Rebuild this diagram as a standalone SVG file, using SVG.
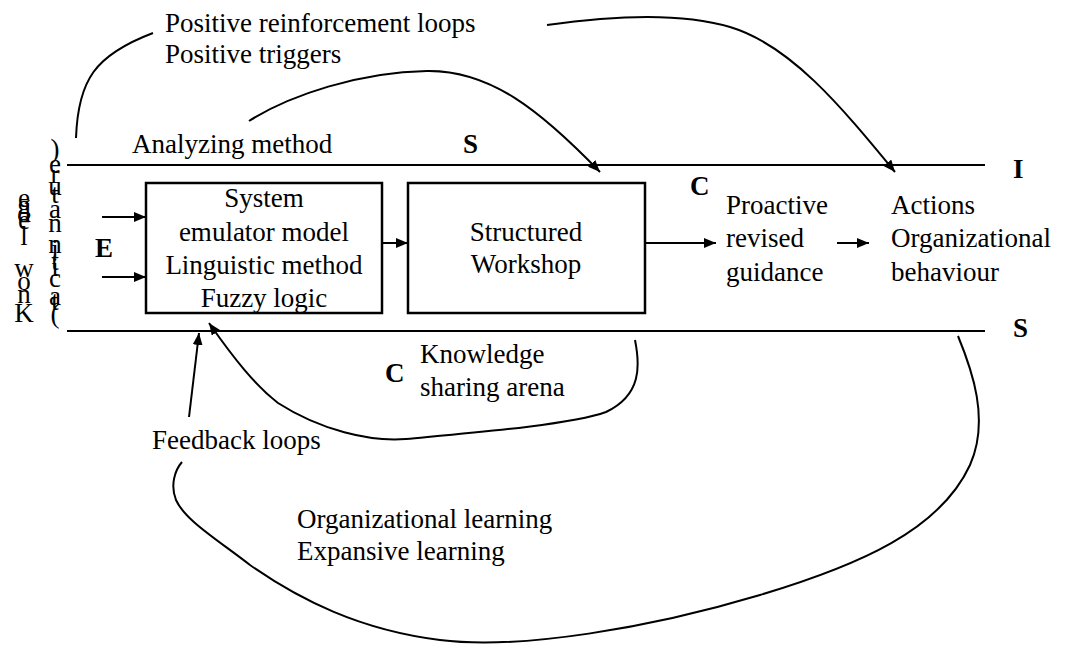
<svg xmlns="http://www.w3.org/2000/svg" width="1068" height="646" viewBox="0 0 1068 646">
<defs>
<marker id="ah" markerUnits="userSpaceOnUse" markerWidth="14" markerHeight="10" refX="12" refY="5" orient="auto">
<path d="M0,0 L12,5 L0,10 z" fill="#000"/>
</marker>
<style>
text{font-family:"Liberation Serif","Times New Roman",serif;font-size:27px;fill:#000}
.b{font-weight:bold}
.c{text-anchor:middle}
.ln{stroke:#000;stroke-width:2;fill:none}
.box{stroke:#000;stroke-width:2.5;fill:#fff}
</style>
</defs>
<rect width="1068" height="646" fill="#fff"/>

<g id="frame">
<line class="ln" x1="67" y1="165" x2="985" y2="165"/>
<line class="ln" x1="67" y1="331" x2="985" y2="331"/>
</g>

<g id="labels">
<text x="165" y="32">Positive reinforcement loops</text>
<text x="165" y="63">Positive triggers</text>
<text x="132" y="153">Analyzing method</text>
<text class="b" x="463" y="153">S</text>
<text class="b" x="1013" y="178">I</text>
<text class="b" x="1013" y="337">S</text>
<text class="b" x="95" y="257">E</text>
<text class="b" x="690" y="195">C</text>
<text class="b" x="385" y="382">C</text>
<text x="420" y="363">Knowledge</text>
<text x="420" y="396">sharing arena</text>
<text x="152" y="449">Feedback loops</text>
<text x="297" y="528">Organizational learning</text>
<text x="297" y="560">Expansive learning</text>
</g>

<g id="knowledge-vertical">
<text class="c"><tspan x="24" y="207">e</tspan><tspan x="24" y="214">g</tspan><tspan x="24" y="222">d</tspan><tspan x="24" y="229">e</tspan><tspan x="24" y="245">l</tspan><tspan x="24" y="277">w</tspan><tspan x="24" y="290">o</tspan><tspan x="24" y="303">n</tspan><tspan x="24" y="322">K</tspan></text>
<text class="c"><tspan x="55" y="158">)</tspan><tspan x="55" y="173">e</tspan><tspan x="55" y="183">r</tspan><tspan x="55" y="195">u</tspan><tspan x="55" y="203">t</tspan><tspan x="55" y="218">a</tspan><tspan x="55" y="232">n</tspan><tspan x="55" y="253">n</tspan><tspan x="55" y="258">i</tspan><tspan x="55" y="270">t</tspan><tspan x="55" y="276">i</tspan><tspan x="55" y="287">c</tspan><tspan x="55" y="305">a</tspan><tspan x="55" y="310">t</tspan><tspan x="55" y="323">(</tspan></text>
</g>

<g id="node-emulator">
<rect class="box" x="146" y="183" width="236" height="130"/>
<text class="c" x="264" y="207">System</text>
<text class="c" x="264" y="241">emulator model</text>
<text class="c" x="264" y="274">Linguistic method</text>
<text class="c" x="264" y="307">Fuzzy logic</text>
</g>

<g id="node-workshop">
<rect class="box" x="408" y="183" width="237" height="130"/>
<text class="c" x="526" y="241">Structured</text>
<text class="c" x="526" y="273">Workshop</text>
</g>

<g id="node-guidance">
<text x="726" y="214">Proactive</text>
<text x="726" y="247">revised</text>
<text x="726" y="281">guidance</text>
</g>

<g id="node-actions">
<text x="891" y="214">Actions</text>
<text x="891" y="247">Organizational</text>
<text x="891" y="281">behaviour</text>
</g>

<g id="connectors">
<line class="ln" x1="102" y1="217" x2="146" y2="217" marker-end="url(#ah)"/>
<line class="ln" x1="102" y1="277" x2="146" y2="277" marker-end="url(#ah)"/>
<line class="ln" x1="382" y1="243" x2="408" y2="243" marker-end="url(#ah)"/>
<line class="ln" x1="645" y1="243" x2="716" y2="243" marker-end="url(#ah)"/>
<line class="ln" x1="837" y1="243" x2="869" y2="243" marker-end="url(#ah)"/>
<path class="ln" d="M76,138 C78,80 95,55 153,33"/>
<path class="ln" d="M249,121 C290,95 360,72 427,71 C490,70 540,110 600,172" marker-end="url(#ah)"/>
<path class="ln" d="M547,25 C610,16 680,12 730,27 C790,45 840,105 895,172" marker-end="url(#ah)"/>
<line class="ln" x1="189" y1="417" x2="199" y2="333" marker-end="url(#ah)"/>
<path class="ln" d="M635,340 C640,365 642,395 606,412 C570,425 470,433 406,439 C370,442 320,430 278,403 C255,385 235,360 209,323" marker-end="url(#ah)"/>
<path class="ln" d="M958,336 C972,370 990,420 970,465 C940,530 860,565 760,595 C650,628 520,650 440,640 C360,630 300,600 250,565 C215,538 185,520 176,500 C170,485 175,470 182,462"/>
</g>
</svg>
